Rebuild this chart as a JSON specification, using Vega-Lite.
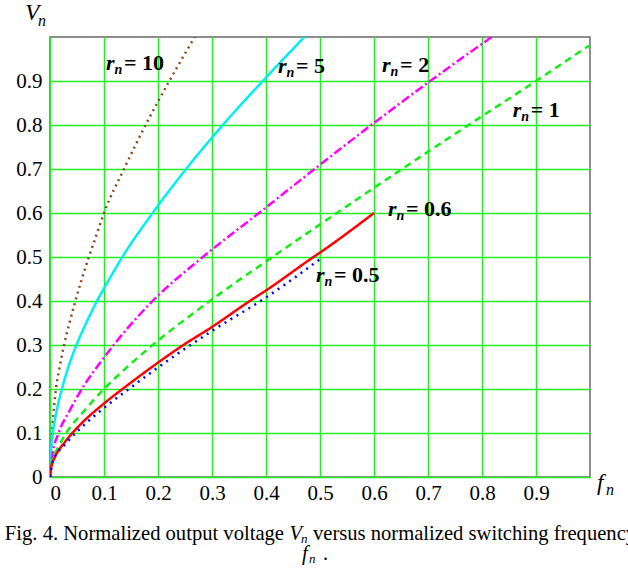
{
  "$schema": "https://vega.github.io/schema/vega-lite/v6.json",
  "width": 540,
  "height": 440,
  "autosize": {"type": "none"},
  "padding": {"left": 50, "top": 37, "right": 38, "bottom": 97},
  "background": "white",
  "config": {
    "view": {"stroke": "#6a6a6a", "strokeWidth": 1.5},
    "axis": {
      "labelFont": "Times New Roman, Liberation Serif, serif",
      "labelFontSize": 21,
      "labelColor": "#000000",
      "ticks": false,
      "domain": false,
      "grid": true,
      "gridColor": "#22ee22",
      "gridWidth": 1.5,
      "gridOpacity": 1
    },
    "text": {"font": "Times New Roman, Liberation Serif, serif", "color": "#000000"}
  },
  "datasets": {
    "curves": [
      {"rn": "10", "fn": 0, "vn": 0},
      {"rn": "10", "fn": 0.002, "vn": 0.06},
      {"rn": "10", "fn": 0.005, "vn": 0.12},
      {"rn": "10", "fn": 0.011, "vn": 0.2},
      {"rn": "10", "fn": 0.018, "vn": 0.25},
      {"rn": "10", "fn": 0.026, "vn": 0.3},
      {"rn": "10", "fn": 0.036, "vn": 0.35},
      {"rn": "10", "fn": 0.047, "vn": 0.4},
      {"rn": "10", "fn": 0.059, "vn": 0.45},
      {"rn": "10", "fn": 0.072, "vn": 0.5},
      {"rn": "10", "fn": 0.086, "vn": 0.55},
      {"rn": "10", "fn": 0.1, "vn": 0.6},
      {"rn": "10", "fn": 0.137, "vn": 0.7},
      {"rn": "10", "fn": 0.177, "vn": 0.8},
      {"rn": "10", "fn": 0.221, "vn": 0.9},
      {"rn": "10", "fn": 0.268, "vn": 1.0},
      {"rn": "5", "fn": 0, "vn": 0},
      {"rn": "5", "fn": 0.0013, "vn": 0.05},
      {"rn": "5", "fn": 0.0054, "vn": 0.1},
      {"rn": "5", "fn": 0.0123, "vn": 0.15},
      {"rn": "5", "fn": 0.022, "vn": 0.2},
      {"rn": "5", "fn": 0.034, "vn": 0.25},
      {"rn": "5", "fn": 0.049, "vn": 0.3},
      {"rn": "5", "fn": 0.067, "vn": 0.35},
      {"rn": "5", "fn": 0.087, "vn": 0.4},
      {"rn": "5", "fn": 0.11, "vn": 0.45},
      {"rn": "5", "fn": 0.134, "vn": 0.5},
      {"rn": "5", "fn": 0.19, "vn": 0.6},
      {"rn": "5", "fn": 0.252, "vn": 0.7},
      {"rn": "5", "fn": 0.32, "vn": 0.8},
      {"rn": "5", "fn": 0.394, "vn": 0.9},
      {"rn": "5", "fn": 0.471, "vn": 1.0},
      {"rn": "2", "fn": 0, "vn": 0},
      {"rn": "2", "fn": 0.0045, "vn": 0.05},
      {"rn": "2", "fn": 0.016, "vn": 0.1},
      {"rn": "2", "fn": 0.036, "vn": 0.15},
      {"rn": "2", "fn": 0.059, "vn": 0.2},
      {"rn": "2", "fn": 0.087, "vn": 0.25},
      {"rn": "2", "fn": 0.118, "vn": 0.3},
      {"rn": "2", "fn": 0.19, "vn": 0.4},
      {"rn": "2", "fn": 0.283, "vn": 0.5},
      {"rn": "2", "fn": 0.387, "vn": 0.6},
      {"rn": "2", "fn": 0.49, "vn": 0.7},
      {"rn": "2", "fn": 0.595, "vn": 0.8},
      {"rn": "2", "fn": 0.704, "vn": 0.9},
      {"rn": "2", "fn": 0.818, "vn": 1.0},
      {"rn": "1", "fn": 0, "vn": 0},
      {"rn": "1", "fn": 0.004, "vn": 0.04},
      {"rn": "1", "fn": 0.012, "vn": 0.06},
      {"rn": "1", "fn": 0.03, "vn": 0.1},
      {"rn": "1", "fn": 0.063, "vn": 0.15},
      {"rn": "1", "fn": 0.1, "vn": 0.2},
      {"rn": "1", "fn": 0.143, "vn": 0.25},
      {"rn": "1", "fn": 0.19, "vn": 0.3},
      {"rn": "1", "fn": 0.296, "vn": 0.4},
      {"rn": "1", "fn": 0.412, "vn": 0.5},
      {"rn": "1", "fn": 0.531, "vn": 0.6},
      {"rn": "1", "fn": 0.652, "vn": 0.7},
      {"rn": "1", "fn": 0.775, "vn": 0.8},
      {"rn": "1", "fn": 0.9, "vn": 0.9},
      {"rn": "1", "fn": 1.0, "vn": 0.982},
      {"rn": "0.6", "fn": 0, "vn": 0},
      {"rn": "0.6", "fn": 0.002, "vn": 0.02},
      {"rn": "0.6", "fn": 0.004, "vn": 0.03},
      {"rn": "0.6", "fn": 0.009, "vn": 0.045},
      {"rn": "0.6", "fn": 0.028, "vn": 0.08},
      {"rn": "0.6", "fn": 0.052, "vn": 0.114},
      {"rn": "0.6", "fn": 0.1, "vn": 0.167},
      {"rn": "0.6", "fn": 0.145, "vn": 0.21},
      {"rn": "0.6", "fn": 0.2, "vn": 0.26},
      {"rn": "0.6", "fn": 0.247, "vn": 0.3},
      {"rn": "0.6", "fn": 0.3, "vn": 0.341},
      {"rn": "0.6", "fn": 0.37, "vn": 0.4},
      {"rn": "0.6", "fn": 0.4, "vn": 0.424},
      {"rn": "0.6", "fn": 0.488, "vn": 0.5},
      {"rn": "0.6", "fn": 0.5, "vn": 0.51},
      {"rn": "0.6", "fn": 0.6, "vn": 0.6},
      {"rn": "0.5", "fn": 0, "vn": 0},
      {"rn": "0.5", "fn": 0.005, "vn": 0.035},
      {"rn": "0.5", "fn": 0.031, "vn": 0.078},
      {"rn": "0.5", "fn": 0.071, "vn": 0.127},
      {"rn": "0.5", "fn": 0.095, "vn": 0.152},
      {"rn": "0.5", "fn": 0.157, "vn": 0.21},
      {"rn": "0.5", "fn": 0.2, "vn": 0.249},
      {"rn": "0.5", "fn": 0.3, "vn": 0.332},
      {"rn": "0.5", "fn": 0.4, "vn": 0.408},
      {"rn": "0.5", "fn": 0.5, "vn": 0.495}
    ],
    "labels": [
      {"rn": "10", "fn": 0.1037, "vn": 0.925, "txt": "= 10"},
      {"rn": "5", "fn": 0.422, "vn": 0.918, "txt": "= 5"},
      {"rn": "2", "fn": 0.615, "vn": 0.92, "txt": "= 2"},
      {"rn": "1", "fn": 0.857, "vn": 0.818, "txt": "= 1"},
      {"rn": "0.6", "fn": 0.626, "vn": 0.593, "txt": "= 0.6"},
      {"rn": "0.5", "fn": 0.4926, "vn": 0.443, "txt": "= 0.5"}
    ]
  },
  "encoding": {
    "x": {"field": "fn", "type": "quantitative", "scale": {"domain": [0, 1], "nice": false, "zero": true},
          "axis": {"values": [0, 0.1, 0.2, 0.3, 0.4, 0.5, 0.6, 0.7, 0.8, 0.9], "format": ".1~f", "labelPadding": 5, "title": null}},
    "y": {"field": "vn", "type": "quantitative", "scale": {"domain": [0, 1], "nice": false, "zero": true},
          "axis": {"values": [0, 0.1, 0.2, 0.3, 0.4, 0.5, 0.6, 0.7, 0.8, 0.9], "format": ".1~f", "labelPadding": 8, "title": null}}
  },
  "layer": [
    {
      "data": {"name": "curves"},
      "mark": {"type": "line", "clip": true, "strokeWidth": 2.5, "strokeCap": "butt", "interpolate": "monotone"},
      "encoding": {
        "color": {"field": "rn", "type": "nominal", "legend": null,
                  "scale": {"domain": ["10", "5", "2", "1", "0.6", "0.5"], "range": ["#8b4a1c", "#00f0f0", "#ff00ff", "#11ee11", "#ff0000", "#0000ff"]}},
        "strokeDash": {"field": "rn", "type": "nominal", "legend": null,
                       "scale": {"domain": ["10", "5", "2", "1", "0.6", "0.5"], "range": [[2, 4], [1, 0], [9, 3, 2, 3], [7, 5], [1, 0], [2, 5]]}}
      }
    },
    {
      "data": {"name": "labels"},
      "mark": {"type": "text", "text": "r", "font": "Times New Roman, Liberation Serif, serif", "color": "#000000", "align": "left", "baseline": "alphabetic", "fontSize": 22, "fontWeight": "bold", "fontStyle": "italic", "clip": false}
    },
    {
      "data": {"name": "labels"},
      "mark": {"type": "text", "text": "n", "font": "Times New Roman, Liberation Serif, serif", "color": "#000000", "align": "left", "baseline": "alphabetic", "fontSize": 14, "fontWeight": "bold", "fontStyle": "italic", "dx": 8.5, "dy": 4, "clip": false}
    },
    {
      "data": {"name": "labels"},
      "mark": {"type": "text", "font": "Times New Roman, Liberation Serif, serif", "color": "#000000", "align": "left", "baseline": "alphabetic", "fontSize": 22, "fontWeight": "bold", "dx": 18, "clip": false},
      "encoding": {"text": {"field": "txt"}}
    },
    {
      "data": {"values": [{"fn": -0.046, "vn": 1.039, "t": "V"}, {"fn": 1.013, "vn": -0.0295, "t": "f"}]},
      "mark": {"type": "text", "font": "Times New Roman, Liberation Serif, serif", "color": "#000000", "align": "left", "baseline": "alphabetic", "fontSize": 23, "fontStyle": "italic", "clip": false},
      "encoding": {"text": {"field": "t"}}
    },
    {
      "data": {"values": [{"fn": -0.0222, "vn": 1.025, "t": "n"}, {"fn": 1.0296, "vn": -0.041, "t": "n"}]},
      "mark": {"type": "text", "font": "Times New Roman, Liberation Serif, serif", "color": "#000000", "align": "left", "baseline": "alphabetic", "fontSize": 16, "fontStyle": "italic", "clip": false},
      "encoding": {"text": {"field": "t"}}
    },
    {
      "data": {"values": [{"fn": 0.4333, "vn": -0.1432, "t": "Fig. 4. Normalized output voltage"}]},
      "mark": {"type": "text", "font": "Times New Roman, Liberation Serif, serif", "color": "#000000", "align": "right", "baseline": "alphabetic", "fontSize": 20.6, "clip": false},
      "encoding": {"text": {"field": "t"}}
    },
    {
      "data": {"values": [{"fn": 0.487, "vn": -0.1432, "t": "versus normalized switching frequency"}, {"fn": 0.5056, "vn": -0.1886, "t": "."}]},
      "mark": {"type": "text", "font": "Times New Roman, Liberation Serif, serif", "color": "#000000", "align": "left", "baseline": "alphabetic", "fontSize": 20.6, "clip": false},
      "encoding": {"text": {"field": "t"}}
    },
    {
      "data": {"values": [{"fn": 0.4435, "vn": -0.1432, "t": "V"}, {"fn": 0.4667, "vn": -0.1886, "t": "f"}]},
      "mark": {"type": "text", "font": "Times New Roman, Liberation Serif, serif", "color": "#000000", "align": "left", "baseline": "alphabetic", "fontSize": 20.6, "fontStyle": "italic", "clip": false},
      "encoding": {"text": {"field": "t"}}
    },
    {
      "data": {"values": [{"fn": 0.4648, "vn": -0.15, "t": "n"}, {"fn": 0.4796, "vn": -0.1955, "t": "n"}]},
      "mark": {"type": "text", "font": "Times New Roman, Liberation Serif, serif", "color": "#000000", "align": "left", "baseline": "alphabetic", "fontSize": 13, "fontStyle": "italic", "clip": false},
      "encoding": {"text": {"field": "t"}}
    }
  ]
}
